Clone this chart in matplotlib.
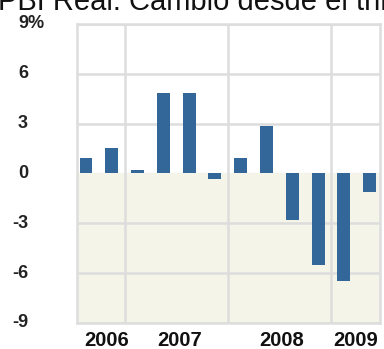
import matplotlib.pyplot as plt
import matplotlib.transforms as mtransforms

plt.rcParams['font.family'] = ['Liberation Sans', 'DejaVu Sans']

# PBI real, cambio trimestral (%), 2006 T3 .. 2009 T2
quarters = ['06T3', '06T4', '07T1', '07T2', '07T3', '07T4',
            '08T1', '08T2', '08T3', '08T4', '09T1', '09T2']
gdp_change = [0.9, 1.55, 0.2, 4.85, 4.85, -0.35,
              0.95, 2.85, -2.8, -5.5, -6.5, -1.1]
y_ticks = [9, 6, 3, 0, -3, -6, -9]
year_labels = ['2006', '2007', '2008', '2009']
year_label_pos = [0.78, 3.64, 7.6, 10.47]
year_bounds = [1.5, 5.5, 9.5]

bar_color = '#336699'
grid_color = '#dddddd'

fig = plt.figure(figsize=(3.84, 3.49), dpi=100)
ax = fig.add_axes([0.2005, 0.0745, 0.789, 0.857])

x = list(range(len(gdp_change)))
ax.set_xlim(-0.35, 11.40)
ax.set_ylim(-9, 9)

# fondo beige para la zona negativa
ax.axhspan(-9, 0, color='#f4f5e8', zorder=0)

for yv in y_ticks:
    if yv != 0:
        ax.axhline(yv, color=grid_color, lw=1.8, zorder=1)
for xb in year_bounds:
    ax.axvline(xb, color=grid_color, lw=1.8, zorder=1)

ax.bar(x, gdp_change, width=0.5, color=bar_color, zorder=3)

for s in ax.spines.values():
    s.set_color(grid_color)
    s.set_linewidth(1.8)
ax.set_xticks([])
ax.set_yticks([])

# etiquetas del eje y a la izquierda
ytrans = mtransforms.blended_transform_factory(fig.transFigure, ax.transData)
for yv in y_ticks:
    ax.text(28 / 384, yv, str(yv), transform=ytrans, ha='right', va='center',
            fontsize=13, fontweight='bold', color='#222222')
ax.text(28 / 384, 9, '%', transform=ytrans, ha='left', va='center',
        fontsize=13, fontweight='bold', color='#222222')

xtrans = mtransforms.blended_transform_factory(ax.transData, fig.transFigure)
for pos, lab in zip(year_label_pos, year_labels):
    ax.text(pos, 1 - 340 / 349, lab, transform=xtrans, ha='center', va='center',
            fontsize=14.5, fontweight='bold', color='#111111')

fig.text(-0.005, 1 - 2 / 349, 'PBI Real: Cambio desde el trimestre anterior',
         ha='left', va='center', fontsize=21, color='#111111')

plt.savefig('out.png', dpi=100)
